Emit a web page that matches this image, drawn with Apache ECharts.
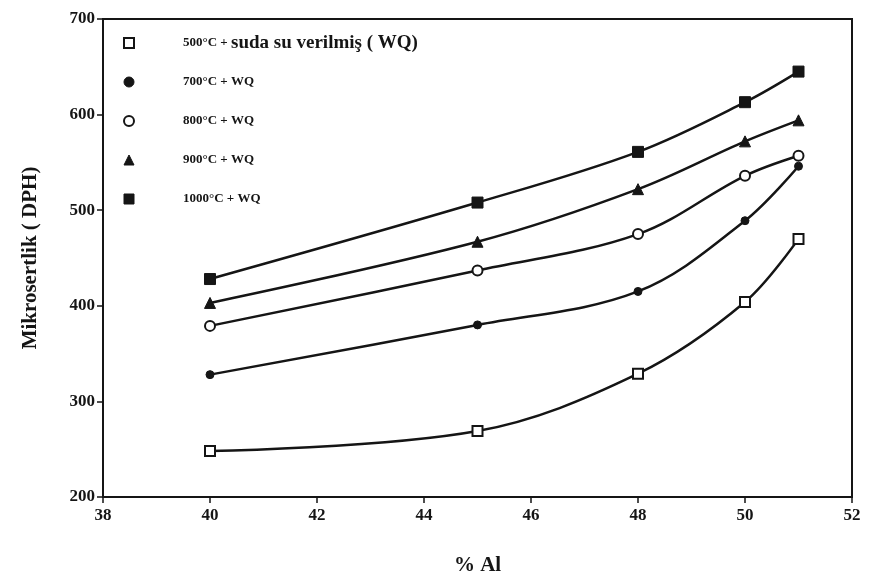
<!DOCTYPE html>
<html>
<head>
<meta charset="utf-8">
<script src="https://cdn.jsdelivr.net/npm/echarts@6/dist/echarts.min.js"></script>
<style>
  html, body { margin: 0; padding: 0; background: #fff; }
  #chart { width: 869px; height: 579px; }
</style>
</head>
<body>
<div id="chart"></div>
<script>
// Aluminium content (%) at which hardness was measured
const alContent = [40, 45, 48, 50, 51];

// Microhardness (DPH) after quenching from each temperature
const hv500 = [248, 269, 329, 404, 470];
const hv700 = [328, 380, 415, 489, 546];
const hv800 = [379, 437, 475, 536, 557];
const hv900 = [403, 467, 522, 572, 594];
const hv1000 = [428, 508, 561, 613, 645];

const seriesNames = [
  '500°C + suda su verilmiş ( WQ)',
  '700°C + WQ',
  '800°C + WQ',
  '900°C + WQ',
  '1000°C + WQ'
];

const xTicks = [38, 40, 42, 44, 46, 48, 50, 52];
const yTicks = [200, 300, 400, 500, 600, 700];

const INK = '#151515';
const FONT = '"Liberation Serif", "DejaVu Serif", serif';

function pairs(vals) {
  return alContent.map((x, i) => [x, vals[i]]);
}

const markerDefs = [
  { symbol: 'rect', size: 10, fill: '#fff', bw: 2 },
  { symbol: 'circle', size: 8, fill: INK, bw: 1 },
  { symbol: 'circle', size: 10, fill: '#fff', bw: 2 },
  { symbol: 'triangle', size: 11, fill: INK, bw: 1 },
  { symbol: 'rect', size: 11, fill: INK, bw: 1 }
];
const seriesValues = [hv500, hv700, hv800, hv900, hv1000];

const chart = echarts.init(document.getElementById('chart'), null, { renderer: 'canvas' });

chart.setOption({
  backgroundColor: '#fff',
  animation: false,
  grid: {
    left: 103, right: 17, top: 19, bottom: 82,
    outerBoundsMode: 'none', containLabel: false,
    show: true, borderColor: INK, borderWidth: 2
  },
  legend: {
    orient: 'vertical',
    left: 118,
    top: 28,
    itemGap: 19,
    itemWidth: 10,
    itemHeight: 10,
    textStyle: {
      fontFamily: FONT,
      fontWeight: 'bold',
      fontSize: 13,
      lineHeight: 20,
      color: INK,
      padding: [0, 0, 0, 44],
      rich: {
        a: { fontFamily: FONT, fontWeight: 'bold', fontSize: 13, lineHeight: 20, color: INK },
        b: { fontFamily: FONT, fontWeight: 'bold', fontSize: 19, lineHeight: 20, color: INK }
      }
    },
    formatter: function (name) {
      if (name === seriesNames[0]) {
        return '{a|500°C + }{b|suda su verilmiş ( WQ)}';
      }
      return name;
    },
    data: seriesNames.map((n, i) => ({
      name: n,
      icon: markerDefs[i].symbol,
      itemStyle: { color: markerDefs[i].fill, borderColor: INK, borderWidth: markerDefs[i].bw }
    }))
  },
  xAxis: {
    type: 'value',
    min: 38,
    max: 52,
    interval: 2,
    name: '% Al',
    nameLocation: 'middle',
    nameGap: 58,
    nameTextStyle: { fontFamily: FONT, fontWeight: 'bold', fontSize: 21, color: INK },
    axisLine: { show: true, lineStyle: { color: INK, width: 2 } },
    axisTick: { show: true, length: 6, lineStyle: { color: INK, width: 1.5 } },
    axisLabel: { fontFamily: FONT, fontWeight: 'bold', fontSize: 17, color: INK, margin: 10,
      formatter: v => (xTicks.indexOf(v) >= 0 ? String(v) : '') },
    splitLine: { show: false }
  },
  yAxis: {
    type: 'value',
    min: 200,
    max: 700,
    interval: 100,
    name: 'Mikrosertlik ( DPH)',
    nameLocation: 'middle',
    nameGap: 62,
    nameRotate: 90,
    nameTextStyle: { fontFamily: FONT, fontWeight: 'bold', fontSize: 21, color: INK },
    axisLine: { show: true, lineStyle: { color: INK, width: 2 } },
    axisTick: { show: true, length: 6, lineStyle: { color: INK, width: 1.5 } },
    axisLabel: { fontFamily: FONT, fontWeight: 'bold', fontSize: 17, color: INK, margin: 8,
      formatter: v => (yTicks.indexOf(v) >= 0 ? String(v) : '') },
    splitLine: { show: false }
  },
  series: seriesNames.map((n, i) => ({
    name: n,
    type: 'line',
    smooth: 0.35,
    data: pairs(seriesValues[i]),
    symbol: markerDefs[i].symbol,
    symbolSize: markerDefs[i].size,
    showAllSymbol: true,
    lineStyle: { color: INK, width: 2.5 },
    itemStyle: { color: markerDefs[i].fill, borderColor: INK, borderWidth: markerDefs[i].bw },
    emphasis: { disabled: true },
    z: 2 + i
  }))
});
</script>
</body>
</html>
